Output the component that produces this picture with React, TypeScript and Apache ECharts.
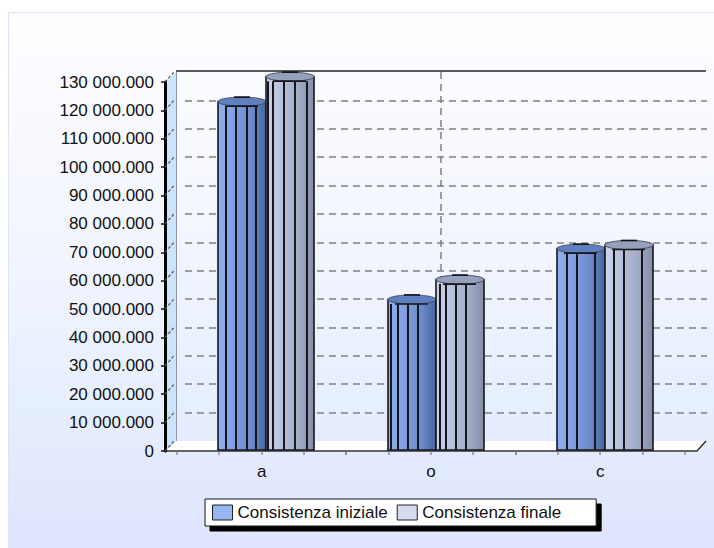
import React, { useEffect, useRef } from "react";
import * as echarts from "echarts";

// Categories, tick labels and the two series of the chart
const categories = ["a", "o", "c"];
const yTickLabels = [
  "0",
  "10 000.000",
  "20 000.000",
  "30 000.000",
  "40 000.000",
  "50 000.000",
  "60 000.000",
  "70 000.000",
  "80 000.000",
  "90 000.000",
  "100 000.000",
  "110 000.000",
  "120 000.000",
  "130 000.000",
];
const startName = "Consistenza iniziale";
const endName = "Consistenza finale";
const startValues = [121500000, 51800000, 69700000];
const endValues = [130300000, 58800000, 71000000];

const STEP = 10000000;
const MAX = 130000000;
const FONT = "'Liberation Sans', Arial, sans-serif";

// Depth of the pseudo-3D box: the back wall sits this far from the front axes
const DEPTH_X = 9;
const DEPTH_Y = 10;
const BAR_W = 48;
const CAP_RY = 4.5;

// Facet lines of every cylinder, in px from its left edge, one row per category
const startFacets = [
  [8, 18, 29, 38],
  [3, 10, 20, 30],
  [10, 20, 38],
];
const endFacets = [
  [2, 7, 18, 29, 41],
  [4, 10, 20, 30],
  [9, 19, 37],
];

const blueStops = [
  [0, "#8fb0ee"],
  [0.35, "#7f9fe0"],
  [0.7, "#6a8aca"],
  [1, "#46669f"],
];
const greyStops = [
  [0, "#cbd4ea"],
  [0.35, "#b6c0da"],
  [0.7, "#a0aac6"],
  [1, "#848da6"],
];

// One cylinder per datum; `side` picks the left or right slot of the category
function cylinderRenderer(side: number, stops: any[], capColor: string, facets: number[][]) {
  return (_params: any, api: any) => {
    const idx = api.value(0);
    const [cx, topY] = api.coord([idx, api.value(1)]);
    const [, baseY] = api.coord([idx, 0]);
    const left = Math.round(cx + DEPTH_X / 2 + (side === 0 ? -BAR_W : 0));
    const children: any[] = [
      {
        type: "rect",
        shape: { x: left, y: topY - CAP_RY, width: BAR_W, height: baseY - 1 - topY + CAP_RY },
        style: {
          fill: new echarts.graphic.LinearGradient(
            0,
            0,
            1,
            0,
            stops.map(([offset, color]) => ({ offset, color }))
          ),
          stroke: "#17171c",
          lineWidth: 1.6,
        },
      },
    ];
    facets[idx].forEach((dx) => {
      children.push({
        type: "line",
        shape: { x1: left + dx, y1: topY, x2: left + dx, y2: baseY - 1 },
        style: { stroke: "#17171c", lineWidth: 2 },
      });
    });
    children.push(
      {
        type: "ellipse",
        shape: { cx: left + BAR_W / 2, cy: topY - CAP_RY, rx: BAR_W / 2, ry: CAP_RY },
        style: { fill: capColor, stroke: "#4a5064", lineWidth: 1 },
      },
      {
        type: "line",
        shape: {
          x1: left + BAR_W / 2 - 8,
          y1: topY - 2 * CAP_RY,
          x2: left + BAR_W / 2 + 8,
          y2: topY - 2 * CAP_RY,
        },
        style: { stroke: "#111", lineWidth: 1.6 },
      },
      {
        type: "line",
        shape: { x1: left + 7, y1: topY, x2: left + BAR_W - 8, y2: topY },
        style: { stroke: "#17171c", lineWidth: 1.6 },
      }
    );
    return { type: "group", children };
  };
}

// Diagonal tick running from the y axis across the side wall
function wallTickRenderer(_params: any, api: any) {
  const [, y] = api.coord([0, api.value(0)]);
  return {
    type: "line",
    shape: { x1: 165, y1: y, x2: 165 + DEPTH_X, y2: y - DEPTH_Y },
    style: { stroke: "#555", lineWidth: 1.2, lineDash: [3, 2] },
  };
}

// Small ticks along the category axis, four per band
function baseTickRenderer(_params: any, api: any) {
  const idx = api.value(0);
  const [cx, y] = api.coord([idx, 0]);
  const band = api.size([1, 0])[0];
  const children: any[] = [];
  [-0.5, -0.25, 0, 0.25, 0.5].forEach((f) => {
    const x = Math.round(cx + f * band);
    children.push({
      type: "line",
      shape: { x1: x, y1: y, x2: x, y2: y + 4 },
      style: { stroke: "#777", lineWidth: 1.2 },
    });
  });
  return { type: "group", children };
}

export default function App() {
  const ref = useRef<HTMLDivElement>(null);

  useEffect(() => {
    const chart = echarts.init(ref.current!, undefined, { renderer: "svg" });
    chart.setOption({
      animation: false,
      backgroundColor: "#ffffff",
      grid: [
        // Front plane: carries the axes and the cylinders
        { left: 177, top: 82, width: 508, height: 369 },
        // Back wall: carries the dashed value lines
        { left: 185, top: 72, width: 522, height: 369 },
      ],
      xAxis: [
        {
          type: "category",
          gridIndex: 0,
          data: categories,
          axisLine: { show: false },
          axisTick: { show: false },
          axisLabel: { color: "#111", fontFamily: FONT, fontSize: 17, margin: 12 },
          splitLine: { show: false },
        },
        { type: "category", gridIndex: 1, data: categories, show: false },
      ],
      yAxis: [
        {
          type: "value",
          gridIndex: 0,
          min: 0,
          max: MAX,
          interval: STEP,
          offset: 12,
          axisLine: { show: true, lineStyle: { color: "#000", width: 3 } },
          axisTick: { show: true, length: 4, lineStyle: { color: "#111", width: 1.5 } },
          axisLabel: {
            color: "#111",
            fontFamily: FONT,
            fontSize: 17,
            margin: 11,
            formatter: (v: number) => yTickLabels[Math.round(v / STEP)],
          },
          splitLine: { show: false },
        },
        {
          type: "value",
          gridIndex: 1,
          min: 0,
          max: MAX,
          interval: STEP,
          axisLine: { show: false },
          axisTick: { show: false },
          axisLabel: { show: false },
          splitLine: {
            show: true,
            showMinLine: false,
            showMaxLine: false,
            lineStyle: { color: "#808080", width: 1.5, type: [7, 5] },
          },
          z: 1,
        },
      ],
      legend: {
        left: 205,
        top: 499,
        orient: "horizontal",
        padding: [5, 35, 5, 7],
        itemWidth: 20,
        itemHeight: 15,
        itemGap: 9,
        backgroundColor: "#ffffff",
        borderColor: "#111",
        borderWidth: 1,
        shadowColor: "#000",
        shadowBlur: 0,
        shadowOffsetX: 5,
        shadowOffsetY: 5,
        textStyle: { color: "#111", fontFamily: FONT, fontSize: 17 },
        icon: "rect",
        data: [
          { name: startName, itemStyle: { color: "#97b6ef", borderColor: "#222", borderWidth: 1 } },
          { name: endName, itemStyle: { color: "#d5dcf2", borderColor: "#222", borderWidth: 1 } },
        ],
        selectedMode: false,
      },
      graphic: [
        {
          type: "rect",
          z: -10,
          shape: { x: 8.5, y: 12.5, width: 706, height: 536 },
          style: {
            fill: new echarts.graphic.LinearGradient(0, 0, 0, 1, [
              { offset: 0, color: "#fcfeff" },
              { offset: 0.4, color: "#f4f6fe" },
              { offset: 0.72, color: "#e6effe" },
              { offset: 1, color: "#dfe4fd" },
            ]),
            stroke: "#dde4f8",
            lineWidth: 1,
          },
        },
        {
          type: "polygon",
          z: -9,
          shape: { points: [[166, 82], [176, 72], [176, 441], [166, 451]] },
          style: { fill: "#c9e4fb", stroke: "none" },
        },
        {
          type: "polygon",
          z: -9,
          shape: { points: [[166, 451], [176, 441], [706, 441], [697, 451]] },
          style: { fill: "#ffffff", stroke: "none" },
        },
        {
          type: "line",
          z: -8,
          shape: { x1: 176.5, y1: 72, x2: 176.5, y2: 441 },
          style: { stroke: "#8b97a8", lineWidth: 1 },
        },
        {
          type: "line",
          z: -8,
          shape: { x1: 441, y1: 72, x2: 441, y2: 441 },
          style: { stroke: "#808080", lineWidth: 1.5, lineDash: [7, 5] },
        },
        {
          type: "line",
          z: 0,
          shape: { x1: 176, y1: 71, x2: 706, y2: 71 },
          style: { stroke: "#222", lineWidth: 1.5 },
        },
        {
          type: "polyline",
          z: 0,
          shape: { points: [[165, 451], [697, 451], [706, 441]] },
          style: { stroke: "#333", lineWidth: 1.5, fill: "none" },
        },
      ],
      series: [
        {
          type: "custom",
          silent: true,
          z: 1,
          xAxisIndex: 0,
          yAxisIndex: 0,
          clip: false,
          data: yTickLabels.map((_, i) => [i * STEP]),
          encode: { y: 0 },
          renderItem: wallTickRenderer,
        },
        {
          type: "custom",
          silent: true,
          z: 1,
          xAxisIndex: 0,
          yAxisIndex: 0,
          clip: false,
          data: categories.map((_, i) => [i]),
          encode: { x: 0 },
          renderItem: baseTickRenderer,
        },
        {
          name: startName,
          type: "custom",
          z: 5,
          xAxisIndex: 0,
          yAxisIndex: 0,
          clip: false,
          data: startValues.map((v, i) => [i, v]),
          encode: { x: 0, y: 1 },
          renderItem: cylinderRenderer(0, blueStops, "#5f80c0", startFacets),
        },
        {
          name: endName,
          type: "custom",
          z: 6,
          xAxisIndex: 0,
          yAxisIndex: 0,
          clip: false,
          data: endValues.map((v, i) => [i, v]),
          encode: { x: 0, y: 1 },
          renderItem: cylinderRenderer(1, greyStops, "#94a0bc", endFacets),
        },
      ],
    });
    return () => chart.dispose();
  }, []);

  return (
    <div
      ref={ref}
      style={{ position: "absolute", left: 0, top: 0, width: 714, height: 548 }}
    />
  );
}
